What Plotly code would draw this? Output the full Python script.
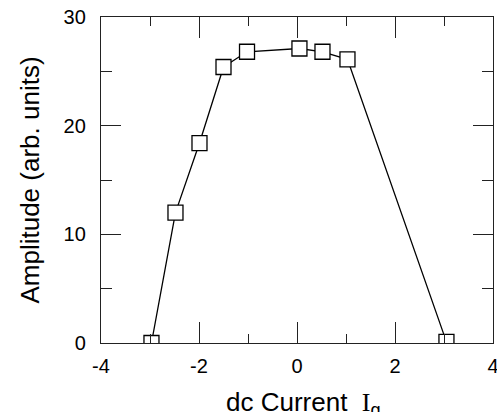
import plotly.graph_objects as go

current = [-2.97, -2.48, -1.99, -1.50, -1.02, 0.05, 0.52, 1.03, 3.05]
amplitude = [0.0, 12.0, 18.4, 25.4, 26.8, 27.1, 26.8, 26.1, 0.1]

x_ticks = [-4, -2, 0, 2, 4]
y_ticks = [0, 10, 20, 30]

x_title = "dc Current&nbsp;&nbsp;<span style='font-family:Liberation Serif, Times New Roman, serif'>I</span><sub>g</sub>"
y_title = "Amplitude (arb. units)"

FONT = "Liberation Sans, Arial, Helvetica, sans-serif"
AX = "#222222"

fig = go.Figure()
fig.add_trace(go.Scatter(
    x=current, y=amplitude, mode="lines+markers",
    line=dict(color="black", width=1.3),
    marker=dict(symbol="square", size=15, color="white",
                line=dict(color="black", width=1.3)),
    showlegend=False, hoverinfo="skip",
))

fig.update_xaxes(
    range=[-4, 4], tickvals=x_ticks, ticktext=[str(v) for v in x_ticks],
    ticks="inside", ticklen=21, tickwidth=1, tickcolor=AX,
    minor=dict(dtick=1, tick0=0, ticks="inside", ticklen=9, tickwidth=1, tickcolor=AX),
    showline=True, linecolor=AX, linewidth=1.3, mirror="ticks",
    showgrid=False, zeroline=False,
    tickfont=dict(family=FONT, size=20, color="black"),
    ticklabelstandoff=5, ticklabeloverflow="allow",
)
fig.update_yaxes(
    range=[0, 30], tickvals=y_ticks, ticktext=[str(v) for v in y_ticks],
    ticks="inside", ticklen=20, tickwidth=1, tickcolor=AX,
    minor=dict(dtick=5, tick0=0, ticks="inside", ticklen=11, tickwidth=1, tickcolor=AX),
    showline=True, linecolor=AX, linewidth=1.3, mirror="ticks",
    showgrid=False, zeroline=False,
    tickfont=dict(family=FONT, size=20, color="black"),
    ticklabelstandoff=10, ticklabeloverflow="allow",
    title=dict(text=y_title,
               font=dict(family=FONT, size=26, color="black"), standoff=16),
)
fig.add_annotation(
    text=x_title, xref="paper", yref="paper", x=0.5, y=0,
    xanchor="center", yanchor="top", yshift=-42, xshift=6, showarrow=False,
    font=dict(family=FONT, size=26, color="black"),
)
fig.update_layout(
    width=497, height=412,
    margin=dict(l=101, r=4, t=17, b=69, autoexpand=False),
    paper_bgcolor="white", plot_bgcolor="white",
)
fig.write_html(
    "out.html",
    config={"displayModeBar": False},
    post_script="document.body.style.margin='0px';document.body.style.overflow='hidden';",
)
